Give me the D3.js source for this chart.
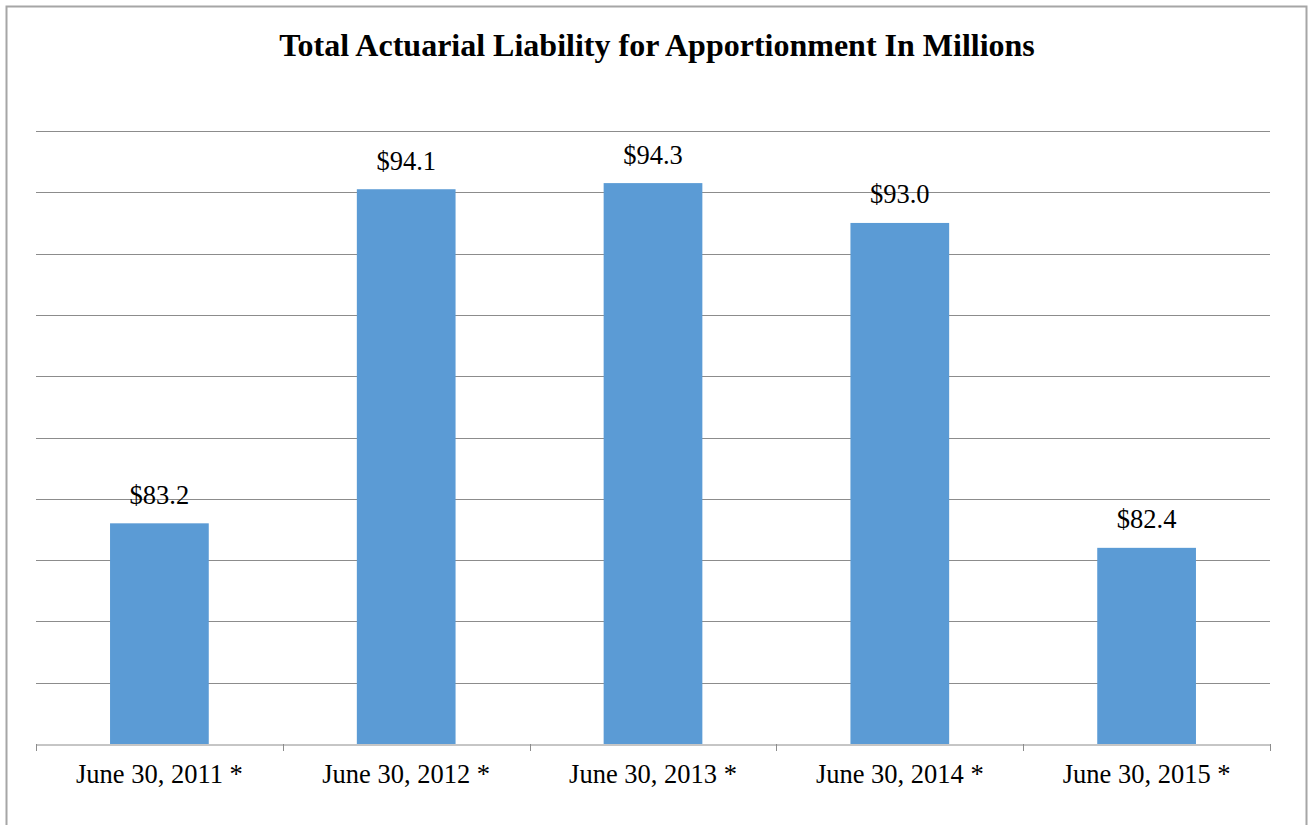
<!DOCTYPE html>
<html><head><meta charset="utf-8">
<script src="https://cdn.jsdelivr.net/npm/d3@7"></script>
<style>body{margin:0;background:#fff;} svg{display:block;}</style>
</head><body>
<svg id="c" width="1308" height="825"></svg>
<script>
const categories = ["June 30, 2011 *","June 30, 2012 *","June 30, 2013 *","June 30, 2014 *","June 30, 2015 *"];
const values = [83.2, 94.1, 94.3, 93.0, 82.4];
const valueLabels = ["$83.2","$94.1","$94.3","$93.0","$82.4"];
const yDomain = [76, 96];
const yTicks = [76,78,80,82,84,86,88,90,92,94,96];
const title = "Total Actuarial Liability for Apportionment In Millions";

const svg = d3.select("#c");
const font = "'Liberation Serif','Times New Roman',serif";
// frame
svg.append("path").attr("d","M6.5,825 V6.5 H1306.5 V825").attr("fill","none").attr("stroke","#a6a6a6").attr("stroke-width",2);

const L=36, R=1270, T=131, B=744;
const x = d3.scaleBand().domain(categories).range([L,R]).paddingInner(0.6).paddingOuter(0.3);
const y = d3.scaleLinear().domain(yDomain).range([B,T]);

svg.append("g").selectAll("line").data(yTicks.slice(1)).join("line")
  .attr("x1",L).attr("x2",R).attr("y1",d=>Math.round(y(d))+0.5).attr("y2",d=>Math.round(y(d))+0.5)
  .attr("stroke","#8c8c8c").attr("stroke-width",1);

svg.append("g").selectAll("rect").data(values).join("rect")
  .attr("x",(d,i)=>x(categories[i])).attr("width",x.bandwidth())
  .attr("y",d=>y(d)).attr("height",d=>B-y(d)).attr("fill","#5b9bd5");

const xb = d3.scaleBand().domain(categories).range([L,R]);
const ax = svg.append("g").attr("transform",`translate(0,${B+0.5})`)
  .call(d3.axisBottom(xb).tickSize(0).tickSizeOuter(0));
ax.select(".domain").attr("stroke","#8c8c8c");
ax.selectAll(".tick text").attr("font-family",font).attr("font-size",26.5).attr("fill","#000").attr("dy",null).attr("y",38.5);
// boundary ticks
svg.append("g").selectAll("line").data(d3.range(categories.length+1)).join("line")
  .attr("x1",i=>Math.round(L+i*xb.step())+0.5).attr("x2",i=>Math.round(L+i*xb.step())+0.5)
  .attr("y1",B).attr("y2",B+7).attr("stroke","#8c8c8c");

svg.append("g").selectAll("text").data(values).join("text")
  .attr("x",(d,i)=>x(categories[i])+x.bandwidth()/2).attr("y",d=>y(d)-19.5)
  .attr("text-anchor","middle").attr("font-family",font).attr("font-size",26.5).attr("fill","#000")
  .text((d,i)=>valueLabels[i]);

svg.append("text").attr("x",657).attr("y",56).attr("text-anchor","middle")
  .attr("font-family",font).attr("font-size",32).attr("font-weight","bold").attr("fill","#000").text(title);
</script>
</body></html>
